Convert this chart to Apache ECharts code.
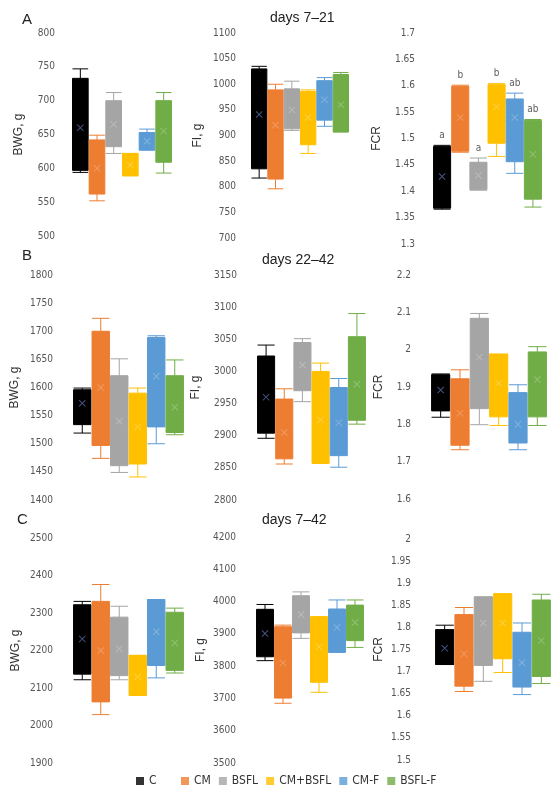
<!DOCTYPE html>
<html>
<head>
<meta charset="utf-8">
<script src="https://cdn.jsdelivr.net/npm/echarts@6/dist/echarts.min.js"></script>
<style>
  html, body { margin: 0; padding: 0; background: #fff; }
  #main { width: 552px; height: 787px; }
</style>
</head>
<body>
<div id="main"></div>
<script>
// 分组与颜色
var groups = ['C', 'CM', 'BSFL', 'CM+BSFL', 'CM-F', 'BSFL-F'];
var colors = ['#000000', '#ED7D31', '#A5A5A5', '#FFC000', '#5B9BD5', '#70AD47'];

// 每组: [min, Q1, median, Q3, max]
// days 7-21
var bwg721 = [[594, 597, 660, 733, 747], [552, 562, 600, 642, 649], [622, 632, 665, 700, 712], [589, 589, 605, 622, 622], [627, 627, 640, 653, 658], [593, 609, 655, 700, 712]];
var bwg721Mean = [660, 600, 665, 605, 640, 655];
var fi721 = [[817, 835, 888, 1030, 1035], [796, 815, 910, 989, 1000], [910, 913, 950, 991, 1006], [865, 882, 935, 986, 989], [918, 930, 970, 1007, 1013], [907, 907, 960, 1019, 1023]];
var fi721Mean = [941, 920, 950, 935, 970, 960];
var fcr721 = [[1.366, 1.368, 1.42, 1.485, 1.487], [1.474, 1.476, 1.54, 1.599, 1.601], [1.402, 1.403, 1.43, 1.455, 1.463], [1.466, 1.491, 1.56, 1.602, 1.604], [1.434, 1.456, 1.54, 1.575, 1.586], [1.37, 1.385, 1.47, 1.534, 1.536]];
var fcr721Mean = [1.428, 1.54, 1.43, 1.56, 1.54, 1.47];
var fcr721Letters = ['a', 'b', 'a', 'b', 'ab', 'ab'];
// days 22-42
var bwg2242 = [[1519, 1534, 1570, 1596, 1599], [1474, 1497, 1600, 1700, 1723], [1449, 1461, 1540, 1621, 1651], [1441, 1464, 1530, 1590, 1599], [1500, 1530, 1620, 1689, 1692], [1516, 1520, 1565, 1621, 1649]];
var bwg2242Mean = [1572, 1600, 1540, 1530, 1620, 1565];
var fi2242 = [[2896, 2904, 2960, 3024, 3041], [2856, 2864, 2900, 2957, 2973], [2953, 2970, 3010, 3045, 3051], [2857, 2857, 2925, 3000, 3013], [2851, 2869, 2920, 2975, 2989], [2918, 2924, 2980, 3054, 3090]];
var fi2242Mean = [2960, 2905, 3010, 2925, 2920, 2980];
var fcr2242 = [[1.819, 1.836, 1.89, 1.933, 1.935], [1.732, 1.744, 1.83, 1.922, 1.946], [1.799, 1.842, 1.98, 2.084, 2.097], [1.797, 1.82, 1.91, 1.988, 1.988], [1.732, 1.75, 1.8, 1.885, 1.906], [1.797, 1.82, 1.92, 1.994, 2.008]];
var fcr2242Mean = [1.892, 1.83, 1.98, 1.91, 1.8, 1.92];
// days 7-42
var bwg742 = [[2122, 2137, 2230, 2322, 2331], [2029, 2063, 2200, 2331, 2376], [2122, 2133, 2205, 2289, 2318], [2080, 2080, 2130, 2187, 2187], [2127, 2160, 2250, 2336, 2336], [2140, 2147, 2220, 2302, 2313]];
var bwg742Mean = [2231, 2200, 2205, 2130, 2250, 2220];
var fi742 = [[3817, 3829, 3900, 3976, 3991], [3685, 3701, 3810, 3922, 3927], [3886, 3903, 3960, 4018, 4030], [3719, 3750, 3860, 3953, 3953], [3843, 3843, 3920, 3977, 4005], [3858, 3879, 3935, 3989, 4005]];
var fi742Mean = [3901, 3810, 3960, 3860, 3920, 3935];
var fcr742 = [[1.716, 1.716, 1.75, 1.795, 1.805], [1.655, 1.667, 1.74, 1.829, 1.845], [1.678, 1.714, 1.81, 1.869, 1.869], [1.698, 1.729, 1.81, 1.876, 1.876], [1.648, 1.665, 1.72, 1.789, 1.81], [1.673, 1.689, 1.77, 1.862, 1.875]];
var fcr742Mean = [1.753, 1.74, 1.81, 1.81, 1.72, 1.77];

var narrow = '"Liberation Sans Narrow", "DejaVu Sans Condensed", sans-serif';
var regular = '"Liberation Sans", Arial, sans-serif';
var xMark = 'path://M1,0L5,4L9,0L10,1L6,5L10,9L9,10L5,6L1,10L0,9L4,5L0,1Z';

// 九个面板的位置
var panels = [
	{ box: bwg721, mean: bwg721Mean, name: 'BWG, g', min: 500, max: 800, step: 50, left: 72, width: 100, top: 33, height: 203, margin: 17, gap: 47 },
	{ box: fi721, mean: fi721Mean, name: 'FI, g', min: 700, max: 1100, step: 50, left: 251, width: 98, top: 33, height: 205, margin: 15, gap: 47 },
	{ box: fcr721, mean: fcr721Mean, name: 'FCR', min: 1.3, max: 1.7, step: 0.05, left: 433, width: 109, top: 33, height: 211, margin: 18, gap: 50, letters: fcr721Letters },
	{ box: bwg2242, mean: bwg2242Mean, name: 'BWG, g', min: 1400, max: 1800, step: 50, left: 73, width: 111, top: 275, height: 225, margin: 20, gap: 52 },
	{ box: fi2242, mean: fi2242Mean, name: 'FI, g', min: 2800, max: 3150, step: 50, left: 257, width: 109, top: 275, height: 225, margin: 20, gap: 55 },
	{ box: fcr2242, mean: fcr2242Mean, name: 'FCR', min: 1.6, max: 2.2, step: 0.1, left: 431, width: 116, top: 275, height: 224, margin: 20, gap: 46 },
	{ box: bwg742, mean: bwg742Mean, name: 'BWG, g', min: 1900, max: 2500, step: 100, left: 73, width: 111, top: 538, height: 225, margin: 20, gap: 51 },
	{ box: fi742, mean: fi742Mean, name: 'FI, g', min: 3500, max: 4200, step: 100, left: 256, width: 108, top: 537, height: 226, margin: 20, gap: 49 },
	{ box: fcr742, mean: fcr742Mean, name: 'FCR', min: 1.5, max: 2, step: 0.05, left: 435, width: 116, top: 539, height: 221, margin: 24, gap: 50 }
];

var myChart = echarts.init(document.getElementById('main'));

var grid = [], xAxis = [], yAxis = [], series = [];

panels.forEach(function (p, i) {
	grid.push({ left: p.left, top: p.top, width: p.width, height: p.height });
	xAxis.push({
		gridIndex: i,
		type: 'category',
		data: groups,
		axisLine: { show: false },
		axisTick: { show: false },
		axisLabel: { show: false },
		splitLine: { show: false }
	});
	yAxis.push({
		gridIndex: i,
		type: 'value',
		min: p.min,
		max: p.max,
		interval: p.step,
		name: p.name,
		nameLocation: 'middle',
		nameGap: p.gap,
		nameTextStyle: { fontFamily: regular, fontSize: 12, color: '#333' },
		axisLine: { show: false },
		axisTick: { show: false },
		splitLine: { show: false },
		axisLabel: {
			fontFamily: narrow,
			fontSize: 10,
			color: '#555',
			margin: p.margin,
			// 不要千位分隔符
			formatter: function (v) { return String(+v.toFixed(2)); }
		}
	});
	series.push({
		type: 'boxplot',
		xAxisIndex: i,
		yAxisIndex: i,
		boxWidth: ['94%', '94%'],
		silent: true,
		data: p.box.map(function (v, k) {
			return {
				value: v,
				itemStyle: { color: colors[k], borderColor: colors[k], borderWidth: 1 }
			};
		})
	});
	// 平均值 X
	series.push({
		type: 'scatter',
		xAxisIndex: i,
		yAxisIndex: i,
		symbol: xMark,
		symbolSize: 7,
		silent: true,
		z: 5,
		data: p.mean.map(function (v, k) {
			return {
				value: [groups[k], v],
				itemStyle: { color: k === 0 ? '#5868a0' : 'rgba(255,255,255,0.3)' }
			};
		})
	});
	if (p.letters) {
		series.push({
			type: 'scatter',
			xAxisIndex: i,
			yAxisIndex: i,
			symbolSize: 0,
			silent: true,
			label: {
				show: true,
				position: 'top',
				distance: 5,
				fontFamily: narrow,
				fontSize: 10,
				color: '#333',
				formatter: function (d) { return p.letters[d.dataIndex]; }
			},
			data: p.box.map(function (v, k) { return [groups[k], v[4]]; })
		});
	}
});

// 图例用的空系列
groups.forEach(function (g, k) {
	series.push({
		type: 'scatter',
		name: g,
		xAxisIndex: 0,
		yAxisIndex: 0,
		itemStyle: { color: colors[k] },
		data: []
	});
});

var legendText = { fontFamily: narrow, fontSize: 12, color: '#333' };

option = {
	animation: false,
	backgroundColor: '#fff',
	grid: grid,
	xAxis: xAxis,
	yAxis: yAxis,
	series: series,
	legend: [{
		data: [groups[0]],
		left: 136,
		top: 775,
		icon: 'rect',
		itemWidth: 8,
		itemHeight: 8,
		itemGap: 9,
		padding: 0,
		selectedMode: false,
		textStyle: legendText
	}, {
		data: groups.slice(1),
		left: 181,
		top: 775,
		icon: 'rect',
		itemWidth: 8,
		itemHeight: 8,
		itemGap: 8,
		padding: 0,
		selectedMode: false,
		textStyle: legendText
	}],
	graphic: [
		{ type: 'text', left: 22, top: 12, style: { text: 'A', font: '15px ' + regular, fill: '#222' } },
		{ type: 'text', left: 22, top: 248, style: { text: 'B', font: '15px ' + regular, fill: '#222' } },
		{ type: 'text', left: 17, top: 512, style: { text: 'C', font: '15px ' + regular, fill: '#222' } },
		{ type: 'text', left: 270, top: 11, style: { text: 'days 7–21', font: '14px ' + regular, fill: '#222' } },
		{ type: 'text', left: 262, top: 253, style: { text: 'days 22–42', font: '14px ' + regular, fill: '#222' } },
		{ type: 'text', left: 262, top: 513, style: { text: 'days 7–42', font: '14px ' + regular, fill: '#222' } }
	]
};

myChart.setOption(option);
window.addEventListener('resize', function () {
	myChart.resize();
});
</script>
</body>
</html>
